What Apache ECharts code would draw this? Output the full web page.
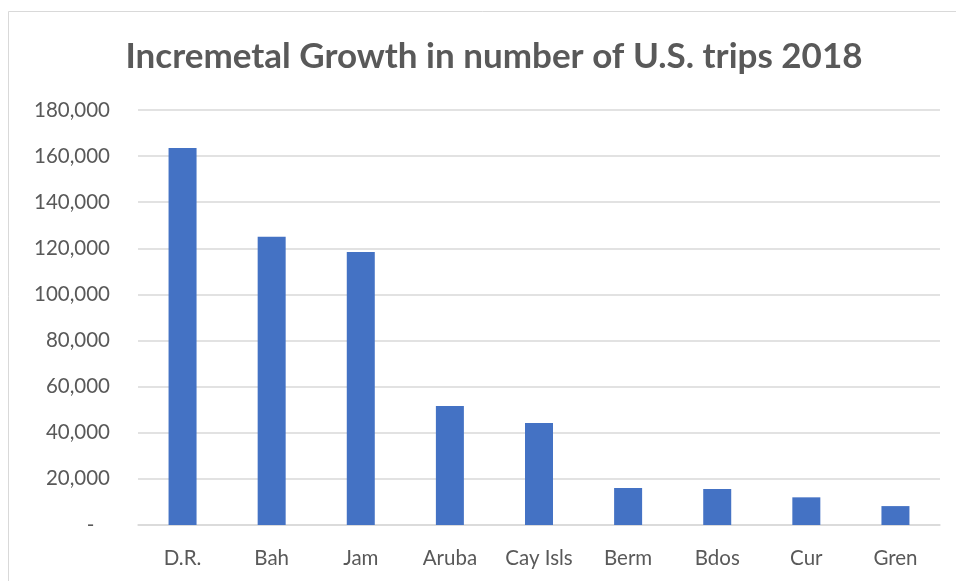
<!DOCTYPE html>
<html>
<head>
<meta charset="utf-8">
<script src="https://cdn.jsdelivr.net/npm/echarts@6/dist/echarts.min.js"></script>
<style>html,body{margin:0;padding:0;background:#fff}#c{width:956px;height:581px}</style>
</head>
<body>
<div id="c"></div>
<script>
const titleText = 'Incremetal Growth in number of U.S. trips 2018';
const categories = ['D.R.', 'Bah', 'Jam', 'Aruba', 'Cay Isls', 'Berm', 'Bdos', 'Cur', 'Gren'];
const values = [163500, 125000, 118400, 51600, 44200, 16000, 15600, 12000, 8200];
const yMin = 0, yMax = 180000, yStep = 20000;

const chart = echarts.init(document.getElementById('c'));
chart.setOption({
  animation: false,
  backgroundColor: '#fff',
  textStyle: { fontFamily: 'Lato' },
  title: {
    text: titleText,
    left: 489, top: 34, textAlign: 'center',
    textStyle: { fontFamily: 'Lato', fontWeight: 'bold', fontSize: 35, color: '#595959' }
  },
  graphic: [{
    type: 'rect', shape: { x: 8.5, y: 11.5, width: 1000, height: 700 },
    style: { fill: 'none', stroke: '#d9d9d9', lineWidth: 1 }, silent: true, z: -1
  }],
  grid: { left: 138, right: 16, top: 110, bottom: 56, containLabel: false },
  xAxis: {
    type: 'category', data: categories,
    axisLine: { lineStyle: { color: '#d9d9d9', width: 1.5 } },
    axisTick: { show: false },
    axisLabel: { color: '#595959', fontSize: 20.5, margin: 23, fontFamily: 'Lato' }
  },
  yAxis: {
    type: 'value', min: yMin, max: yMax, interval: yStep,
    axisLine: { show: false }, axisTick: { show: false },
    splitLine: { lineStyle: { color: '#d9d9d9', width: 1.5 } },
    axisLabel: {
      color: '#595959', fontSize: 20.5, margin: 28, fontFamily: 'Lato',
      formatter: v => v === 0 ? '-   ' : v.toLocaleString('en-US')
    }
  },
  series: [{
    type: 'bar', data: values, barWidth: 28,
    itemStyle: { color: '#4472C4' }
  }]
});
</script>
</body>
</html>
